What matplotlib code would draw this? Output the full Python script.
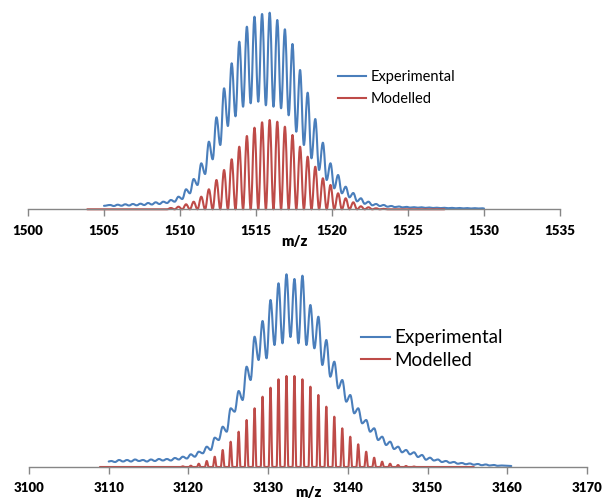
import matplotlib
matplotlib.use("Agg")
import matplotlib.pyplot as plt
from matplotlib.path import Path
from matplotlib.patches import PathPatch
from matplotlib.lines import Line2D

# ------------------------------------------------------------------
# Data (intensities in arbitrary units)
# ------------------------------------------------------------------
# Top panel: doubly charged envelope around m/z 1515
top_exp_peak_mz = [1505.4, 1505.9, 1506.4, 1506.9, 1507.4, 1507.9, 1508.4, 1508.9,
                   1509.4, 1509.9, 1510.4, 1510.9, 1511.4, 1511.9, 1512.4, 1512.9,
                   1513.4, 1513.9, 1514.4, 1514.9, 1515.4, 1515.9, 1516.4, 1516.9,
                   1517.4, 1517.9, 1518.4, 1518.9, 1519.4, 1519.9, 1520.4, 1520.9,
                   1521.4, 1521.9, 1522.4, 1522.9, 1523.4, 1523.9, 1524.4, 1524.9,
                   1525.4, 1525.9, 1526.4, 1526.9, 1527.4, 1527.9, 1528.4, 1528.9,
                   1529.4, 1529.9]
top_exp_peak_int = [4.3, 4.6, 5.0, 5.3, 5.6, 6.3, 7.0, 7.6,
                    9.3, 12.6, 20.0, 30.3, 46.0, 67.6, 92.0, 121.0,
                    146.0, 167.6, 182.6, 192.6, 195.3, 196.6, 189.3, 180.0,
                    165.3, 139.3, 116.6, 90.3, 66.6, 46.0, 34.3, 22.6,
                    16.3, 11.0, 7.6, 5.3, 4.3, 3.3, 2.8, 2.4,
                    2.1, 2.0, 1.8, 1.6, 1.5, 1.4, 1.3, 1.2,
                    1.1, 1.0]
top_exp_valley_int = [3.3, 3.6, 3.8, 4.0, 4.3, 4.8, 5.3, 6.3,
                      7.6, 10.3, 16.0, 24.3, 35.3, 50.0, 64.3, 83.3,
                      93.0, 102.6, 106.0, 107.6, 104.0, 102.6, 101.0, 94.0,
                      77.6, 64.3, 51.0, 39.3, 29.3, 21.0, 16.0, 12.0,
                      8.0, 5.5, 4.0, 3.3, 2.6, 2.2, 1.9, 1.7,
                      1.6, 1.4, 1.3, 1.2, 1.1, 1.0, 0.9, 0.8,
                      0.8]
top_exp_start = (1505.0, 3.5)
top_exp_end = (1530.0, 0.8)

top_mod_peak_mz = [1509.4, 1509.9, 1510.4, 1510.9, 1511.4, 1511.9, 1512.4, 1512.9,
                   1513.4, 1513.9, 1514.4, 1514.9, 1515.4, 1515.9, 1516.4, 1516.9,
                   1517.4, 1517.9, 1518.4, 1518.9, 1519.4, 1519.9, 1520.4, 1520.9,
                   1521.4, 1521.9, 1522.4, 1522.9, 1523.4]
top_mod_peak_int = [1.3, 2.6, 5.0, 7.6, 12.6, 20.0, 29.3, 39.3,
                    50.0, 62.6, 73.3, 81.6, 87.0, 89.3, 87.6, 82.6,
                    74.3, 62.6, 52.6, 42.6, 31.0, 24.3, 16.0, 11.0,
                    7.0, 3.0, 2.0, 1.0, 0.5]
top_mod_range = (1503.9, 1527.4)

# Bottom panel: singly charged envelope around m/z 3132
bot_exp_peak_mz = [3110.3, 3111.3, 3112.3, 3113.3, 3114.3, 3115.3, 3116.3, 3117.3,
                   3118.3, 3119.3, 3120.3, 3121.3, 3122.3, 3123.3, 3124.3, 3125.3,
                   3126.3, 3127.3, 3128.3, 3129.3, 3130.3, 3131.3, 3132.3, 3133.3,
                   3134.3, 3135.3, 3136.3, 3137.3, 3138.3, 3139.3, 3140.3, 3141.3,
                   3142.3, 3143.3, 3144.3, 3145.3, 3146.3, 3147.3, 3148.3, 3149.3,
                   3150.3, 3151.3, 3152.3, 3153.3, 3154.3, 3155.3, 3156.3, 3157.3,
                   3158.3, 3159.3]
bot_exp_peak_int = [6.0, 7.0, 7.0, 7.5, 7.0, 7.5, 8.0, 8.0,
                    9.0, 10.3, 12.7, 15.3, 20.3, 29.3, 40.3, 58.7,
                    76.0, 100.3, 130.3, 146.0, 167.0, 183.7, 192.7, 188.0,
                    191.3, 162.0, 150.3, 127.0, 105.3, 87.0, 72.0, 58.7,
                    47.0, 38.7, 30.3, 25.3, 20.3, 17.0, 14.7, 12.0,
                    9.3, 7.5, 6.0, 5.0, 4.0, 3.5, 3.0, 2.5,
                    2.0, 1.5]
bot_exp_valley_int = [5.0, 5.5, 5.5, 6.0, 5.5, 6.0, 6.5, 6.5,
                      7.5, 8.5, 10.3, 13.7, 17.0, 27.0, 35.3, 55.3,
                      67.0, 87.0, 107.0, 108.7, 122.0, 123.7, 130.0, 123.7,
                      122.0, 118.7, 102.0, 90.3, 78.7, 65.3, 53.7, 43.7,
                      35.3, 27.0, 22.0, 18.0, 14.7, 12.7, 10.0, 7.3,
                      6.5, 5.0, 4.2, 3.3, 2.8, 2.3, 1.8, 1.5,
                      1.2]
bot_exp_start = (3110.0, 5.5)
bot_exp_end = (3160.5, 1.0)

bot_mod_peak_mz = [3119.3, 3120.3, 3121.3, 3122.3, 3123.3, 3124.3, 3125.3, 3126.3,
                   3127.3, 3128.3, 3129.3, 3130.3, 3131.3, 3132.3, 3133.3, 3134.3,
                   3135.3, 3136.3, 3137.3, 3138.3, 3139.3, 3140.3, 3141.3, 3142.3,
                   3143.3, 3144.3, 3145.3, 3146.3, 3147.3, 3148.3]
bot_mod_peak_int = [0.7, 1.3, 3.3, 6.0, 10.3, 17.0, 25.3, 35.3,
                    47.0, 58.7, 70.3, 79.3, 87.7, 91.0, 91.0, 87.7,
                    80.3, 72.0, 60.3, 50.3, 38.7, 30.3, 22.7, 15.3,
                    9.3, 5.3, 3.3, 2.0, 1.0, 0.5]
bot_mod_range = (3108.9, 3155.8)

top_ticks = [1500, 1505, 1510, 1515, 1520, 1525, 1530, 1535]
bot_ticks = [3100, 3110, 3120, 3130, 3140, 3150, 3160, 3170]
series_names = ["Experimental", "Modelled"]
x_label = "m/z"

# ------------------------------------------------------------------
# Styling
# ------------------------------------------------------------------
BLUE = "#4A7EBB"
RED = "#BE4B48"
GRAY = "#868686"
plt.rcParams["font.family"] = ["Lato", "DejaVu Sans"]

W, H = 602, 500
fig = plt.figure(figsize=(W / 100, H / 100), dpi=100)


def exp_profile(start, peak_mz, peak_int, valley_int, end):
    xs, ys = [start[0]], [start[1]]
    for i, (m, v) in enumerate(zip(peak_mz, peak_int)):
        xs.append(m)
        ys.append(v)
        if i < len(valley_int):
            xs.append((m + peak_mz[i + 1]) / 2.0)
            ys.append(valley_int[i])
    xs.append(end[0])
    ys.append(end[1])
    return xs, ys


def mod_profile(rng, peak_mz, peak_int, half_width):
    xs, ys = [rng[0]], [0.0]
    for m, v in zip(peak_mz, peak_int):
        xs += [m - half_width, m, m + half_width]
        ys += [0.0, v, 0.0]
    xs.append(rng[1])
    ys.append(0.0)
    return xs, ys


def smooth_patch(xs, ys, color, lw, k=0.38):
    verts = [(xs[0], ys[0])]
    codes = [Path.MOVETO]
    for i in range(len(xs) - 1):
        dx = xs[i + 1] - xs[i]
        verts += [(xs[i] + k * dx, ys[i]), (xs[i + 1] - k * dx, ys[i + 1]),
                  (xs[i + 1], ys[i + 1])]
        codes += [Path.CURVE4] * 3
    return PathPatch(Path(verts, codes), fill=False, edgecolor=color, lw=lw,
                     joinstyle="round", capstyle="round", clip_on=False)


def setup_axis(ax, ticks, ytop, labelpad):
    ax.set_xlim(ticks[0], ticks[-1])
    ax.set_ylim(0, ytop)
    for s in ["top", "right", "left"]:
        ax.spines[s].set_visible(False)
    ax.spines["bottom"].set_color(GRAY)
    ax.spines["bottom"].set_linewidth(1.0)
    ax.set_yticks([])
    ax.set_xticks(ticks)
    ax.set_xticklabels([str(t) for t in ticks], fontsize=9.5, fontweight="heavy")
    ax.tick_params(axis="x", direction="out", length=5, width=1.0, color=GRAY,
                   pad=6, labelcolor="black")
    ax.set_xlabel(x_label, fontsize=10.5, fontweight="heavy", labelpad=labelpad)
    ax.patch.set_alpha(0)


# Top panel
ax1 = fig.add_axes([28 / W, (H - 209.3) / H, 532 / W, 209.3 / H])
setup_axis(ax1, top_ticks, 209.3, -1)
xs, ys = exp_profile(top_exp_start, top_exp_peak_mz, top_exp_peak_int,
                     top_exp_valley_int, top_exp_end)
ax1.add_patch(smooth_patch(xs, ys, BLUE, 1.5))
xs, ys = mod_profile(top_mod_range, top_mod_peak_mz, top_mod_peak_int, 0.25)
ax1.add_patch(smooth_patch(xs, ys, RED, 1.5))
handles = [Line2D([], [], color=BLUE, lw=1.5), Line2D([], [], color=RED, lw=1.5)]
ax1.legend(handles, series_names, loc="center left",
           bbox_to_anchor=(338 / W, 1 - 88 / H), bbox_transform=fig.transFigure,
           frameon=False, fontsize=10.5, handlelength=1.95, handletextpad=0.3,
           labelspacing=0.52, borderpad=0, borderaxespad=0)

# Bottom panel
ax2 = fig.add_axes([29 / W, (H - 467) / H, 558 / W, 207 / H])
setup_axis(ax2, bot_ticks, 207, -6)
xs, ys = exp_profile(bot_exp_start, bot_exp_peak_mz, bot_exp_peak_int,
                     bot_exp_valley_int, bot_exp_end)
ax2.add_patch(smooth_patch(xs, ys, BLUE, 1.5))
xs, ys = mod_profile(bot_mod_range, bot_mod_peak_mz, bot_mod_peak_int, 0.24)
ax2.add_patch(smooth_patch(xs, ys, RED, 1.5))
handles = [Line2D([], [], color=BLUE, lw=1.5), Line2D([], [], color=RED, lw=1.5)]
ax2.legend(handles, series_names, loc="center left",
           bbox_to_anchor=(361 / W, 1 - 349 / H), bbox_transform=fig.transFigure,
           frameon=False, fontsize=13.5, handlelength=1.55, handletextpad=0.25,
           labelspacing=0.28, borderpad=0, borderaxespad=0)

fig.savefig("out.png", dpi=100)
